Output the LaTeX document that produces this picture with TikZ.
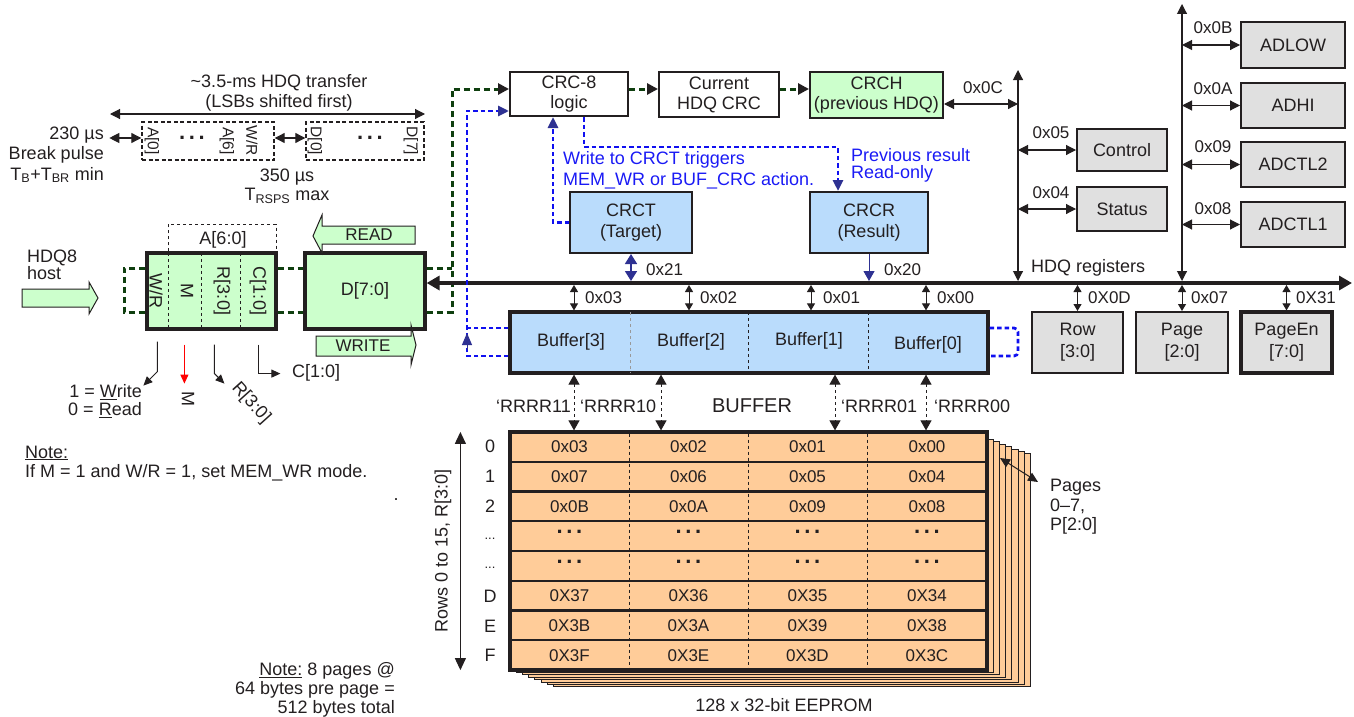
\documentclass[tikz,border=0pt]{standalone}
\usepackage{fontspec}
\setmainfont{Liberation Sans}
\usetikzlibrary{arrows.meta,calc}
\definecolor{gfill}{HTML}{CCFFCC}
\definecolor{bfill}{HTML}{BADCFC}
\definecolor{gyfill}{HTML}{E0E0E0}
\definecolor{ofill}{HTML}{FFCC99}
\definecolor{dgreen}{HTML}{0F3F0F}
\definecolor{bdash}{HTML}{1010F0}
\definecolor{navy}{HTML}{2E3192}
\definecolor{ink}{HTML}{231F20}
\definecolor{tblue}{HTML}{1A1AF5}
\newcommand\Fs{\fontsize{18}{21}\selectfont}
\newcommand\Fh{\fontsize{17}{19}\selectfont}
\newcommand\Fr{\fontsize{15.5}{17}\selectfont}
\tikzset{
  every node/.style={text=ink},
  tx/.style={inner sep=0pt, font=\Fs},
  th/.style={inner sep=0pt, font=\Fh},
  bx/.style={draw=ink, line width=2pt, inner sep=0pt, align=center, font=\Fs},
  bxk/.style={bx, line width=3.2pt},
  ar/.style={draw=ink, line width=1.1pt, -{Triangle[length=10pt,width=10pt]}},
  dar/.style={draw=ink, line width=1.1pt, {Triangle[length=10pt,width=10pt]}-{Triangle[length=10pt,width=10pt]}},
  sdar/.style={draw=ink, line width=1pt, {Triangle[length=7pt,width=8pt]}-{Triangle[length=7pt,width=8pt]}},
  gd/.style={draw=dgreen, line width=3pt, dash pattern=on 6pt off 4pt},
  bd/.style={draw=bdash, line width=2.8pt, dash pattern=on 4.5pt off 3pt},
  fat/.style={draw=ink, line width=1pt, fill=gfill},
  fr/.style={draw=ink, dash pattern=on 4pt off 2.5pt, line width=1.4pt, inner sep=0pt},
  dots/.style={inner sep=0pt, font=\bfseries\fontsize{22}{24}\selectfont},
}
\begin{document}
\begin{tikzpicture}[x=1pt,y=-1pt]
\useasboundingbox (0,0) rectangle (1354,717);

% ---------- top-left frame ----------
\node[tx] (ttl1) at (279,83) {\textasciitilde 3.5-ms HDQ transfer};
\node[tx] (ttl2) at (279,103) {(LSBs shifted first)};
\coordinate (lal) at (110,114);
\coordinate (lar) at (425,114);
\draw[dar] (lal) -- (lar);
\node[tx, anchor=east] (t230) at (104,135) {230 µs};
\node[tx, anchor=east] (tbp) at (104,155) {Break pulse};
\node[tx, anchor=east] (ttb) at (104,175) {T\textsubscript{B}+T\textsubscript{BR} min};
\node[fr, minimum width=132pt, minimum height=38pt] (fa) at (208,141) {};
\node[fr, minimum width=118pt, minimum height=38pt] (fd) at (365,141) {};
\draw[dar] ($(fa.west)+(-32,-3)$) -- ($(fa.west)+(0,-3)$);
\draw[dar] ($(fa.east)+(0,-3)$) -- ($(fd.west)+(0,-3)$);
\node[tx, font=\Fr, rotate=-90] (fa0) at (152,141) {A[0]};
\node[dots] (fadots) at (192,138) {.\,.\,.};
\node[tx, font=\Fr, rotate=-90] (fa6) at (227,141) {A[6]};
\node[tx, font=\Fr, rotate=-90] (fawr) at (252,141) {W/R};
\node[tx, font=\Fr, rotate=-90] (fd0) at (315,141) {D[0]};
\node[dots] (fddots) at (370,138) {.\,.\,.};
\node[tx, font=\Fr, rotate=-90] (fd7) at (411,141) {D[7]};
\node[tx] (t350) at (287,177) {350 µs};
\node[tx] (trsps) at (287,196) {T\textsubscript{RSPS} max};

% ---------- host and command byte ----------
\node[tx, align=left, anchor=west, font=\fontsize{18}{17}\selectfont] (host) at (27,265) {HDQ8\\host};
\draw[fat] (22,289) -- (89,289) -- (89,282) -- (98,298) -- (89,314) -- (89,307) -- (22,307) -- cycle;

\node[bxk, fill=gfill, minimum width=129pt, minimum height=76pt] (A) at (211.5,291) {};
\draw[ink, dashed, line width=1pt] ($(A.north west)+(23,1.5)$) -- ($(A.south west)+(23,-1.5)$);
\draw[ink, dashed, line width=1pt] ($(A.north west)+(56,1.5)$) -- ($(A.south west)+(56,-1.5)$);
\draw[ink, dashed, line width=1pt] ($(A.north west)+(95,1.5)$) -- ($(A.south west)+(95,-1.5)$);
\draw[ink, dashed, line width=1pt] ($(A.north west)+(23,0)$) -- ++(0,-27) -- ($(A.north east)+(-1.5,-27)$) -- ($(A.north east)+(-1.5,0)$);
\node[tx] (a60) at (223,240) {A[6:0]};
\node[tx, rotate=-90] (lwr) at (156,291) {W/R};
\node[tx, rotate=-90] (lm) at (187,291) {M};
\node[tx, rotate=-90] (lr) at (222,291) {R[3:0]};
\node[tx, rotate=-90] (lc) at (258,291) {C[1:0]};

\node[bxk, fill=gfill, minimum width=120pt, minimum height=76pt] (D) at (365,291) {D[7:0]};

% READ / WRITE arrows
\draw[fat] (415,226) -- (322,226) -- (322,215) -- (313,236) -- (322,253) -- (322,244) -- (415,244) -- cycle;
\node[tx, font=\fontsize{17}{19}\selectfont] (tread) at (369,235) {READ};
\draw[fat] (316,336) -- (411,336) -- (411,325) -- (416,345) -- (411,365) -- (411,356) -- (316,356) -- cycle;
\node[tx, font=\fontsize{17}{19}\selectfont] (twrite) at (363,346) {WRITE};

% lines below A
\draw[ar, line width=1pt, -{Triangle[length=9pt,width=8pt]}] ($(A.south west)+(12,11)$) -- ++(0,30) -- ++(-14,14);
\draw[red, line width=1pt, -{Triangle[length=9pt,width=8pt]}] ($(A.south west)+(39,14)$) -- ++(0,39);
\draw[ar, line width=1pt, -{Triangle[length=9pt,width=8pt]}] ($(A.south west)+(69,14)$) -- ++(0,29) -- ++(10,10);
\draw[ar, line width=1pt, -{Triangle[length=9pt,width=8pt]}] ($(A.south west)+(113,14)$) -- ++(0,29) -- ++(22,0);
\node[tx, align=right, anchor=east, font=\fontsize{18}{18}\selectfont] (wrd) at (142,401) {1 = \underline{W}rite\\0 = \underline{R}ead};
\node[tx, rotate=-90] (mlab) at (188,399) {M};
\node[tx, rotate=-48] (rlab) at (251,403) {R[3:0]};
\node[tx, anchor=west] (clab) at (292,373) {C[1:0]};

% notes
\node[tx, anchor=west] (note1) at (25,453) {\underline{Note:}};
\node[tx, anchor=west] (note2) at (25,473) {If M = 1 and W/R = 1, set MEM\_WR mode.};
\node[tx] (dot) at (396,500) {.};
\node[tx, align=right, anchor=east, font=\fontsize{18}{19}\selectfont] (note3) at (395,690) {\underline{Note:} 8 pages @\\64 bytes pre page =\\512 bytes total};

% ---------- CRC area ----------
\node[bx, fill=white, minimum width=118pt, minimum height=44pt, font=\fontsize{18}{20}\selectfont] (crc8) at (569,94) {CRC-8\\logic};
\node[bx, fill=white, minimum width=120pt, minimum height=45pt, font=\fontsize{18}{20}\selectfont] (cur) at (719,94.5) {Current\\HDQ CRC};
\node[bx, fill=gfill, minimum width=133pt, minimum height=46pt, font=\fontsize{18}{20}\selectfont] (crch) at (876.5,95) {CRCH\\(previous HDQ)};
\node[bx, fill=bfill, minimum width=122pt, minimum height=61pt] (crct) at (631,222.5) {CRCT\\(Target)};
\node[bx, fill=bfill, minimum width=118pt, minimum height=61pt] (crcr) at (869,222.5) {CRCR\\(Result)};

\coordinate (gt) at (0,268);
\coordinate (gb) at (0,312);
\coordinate (gx) at (452,0);
\coordinate (gtop) at (0,89);
\coordinate (glx) at (124,0);
\draw[gd] (A.west |- gt) -- (glx |- gt) -- (glx |- gb) -- (A.west |- gb);
\draw[gd] (A.east |- gt) -- (D.west |- gt);
\draw[gd] (A.east |- gb) -- (D.west |- gb);
\draw[gd] (D.east |- gt) -- (gx |- gt);
\draw[gd, -{Triangle[length=11pt,width=11pt,color=ink]}] (D.east |- gb) -- (gx |- gb) -- (gx |- gtop) -- (crc8.west |- gtop);
\draw[gd, -{Triangle[length=11pt,width=11pt,color=ink]}] (crc8.east |- gtop) -- (cur.west |- gtop);
\draw[gd, -{Triangle[length=11pt,width=11pt,color=ink]}] (cur.east |- gtop) -- (crch.west |- gtop);

\draw[bd, -{Triangle[length=11pt,width=10pt,color=navy]}] ($(crc8.south west)+(75,0)$) |- ($(crcr.north west)+(29,-44)$) -- ($(crcr.north west)+(29,0)$);
\draw[bd, -{Triangle[length=11pt,width=10pt,color=navy]}] (crct.west) -| ($(crc8.south west)+(44,0)$);
\node[tx, text=tblue, align=left, anchor=west, font=\fontsize{18}{21}\selectfont] (bnote) at (563,170) {Write to CRCT triggers\\MEM\_WR or BUF\_CRC action.};
\node[tx, text=tblue, align=left, anchor=west, font=\fontsize{18}{17}\selectfont] (rnote) at (851,165) {Previous result\\Read-only};

% ---------- bus ----------
\coordinate (busL) at (427,283);
\coordinate (busR) at (1352,283);
\draw[line width=4pt, ink, {Triangle[length=13pt,width=14pt]}-{Triangle[length=13pt,width=14pt]}] (D.east |- busL) -- (busR);

\draw[navy, line width=1.6pt, {Triangle[length=10pt,width=12pt]}-{Triangle[length=10pt,width=12pt]}] (crct.south) -- ($(crct.south |- busL)+(0,-2)$);
\node[th, anchor=west] (l21) at (646,270) {0x21};
\draw[navy, line width=1pt, -{Triangle[length=10pt,width=11pt]}] (crcr.south) -- ($(crcr.south |- busL)+(0,-2)$);
\node[th, anchor=west] (l20) at (884,270) {0x20};

% ---------- registers ----------
\coordinate (v1t) at (1018,70);
\coordinate (v2t) at (1182,4);
\draw[dar] (v1t) -- ($(v1t |- busL)+(0,-2)$);
\draw[dar] (v2t) -- ($(v2t |- busL)+(0,-2)$);
\node[tx, anchor=west] (hdqr) at (1031,268) {HDQ registers};

\node[bx, fill=gyfill, minimum width=90pt, minimum height=42pt] (ctl) at (1122,150) {Control};
\node[bx, fill=gyfill, minimum width=90pt, minimum height=44pt] (sts) at (1122,209) {Status};
\node[bx, fill=gyfill, minimum width=104pt, minimum height=46pt] (adlow) at (1293,45) {ADLOW};
\node[bx, fill=gyfill, minimum width=104pt, minimum height=45pt] (adhi) at (1293,105.5) {ADHI};
\node[bx, fill=gyfill, minimum width=104pt, minimum height=45pt] (adc2) at (1293,164.5) {ADCTL2};
\node[bx, fill=gyfill, minimum width=104pt, minimum height=45pt] (adc1) at (1293,224.5) {ADCTL1};

\draw[dar] ($(crch.east)+(0,9)$) -- ($(v1t |- crch.east)+(0,9)$);
\node[th] (l0c) at (983,88) {0x0C};
\draw[dar] (v1t |- ctl.west) -- (ctl.west);
\node[th] (l05) at (1051,133) {0x05};
\draw[dar] (v1t |- sts.west) -- (sts.west);
\node[th] (l04) at (1051,193) {0x04};
\draw[dar] (v2t |- adlow.west) -- (adlow.west);
\node[th] (l0b) at (1213,28) {0x0B};
\draw[dar] (v2t |- adhi.west) -- (adhi.west);
\node[th] (l0a) at (1213,89) {0x0A};
\draw[dar] (v2t |- adc2.west) -- (adc2.west);
\node[th] (l09) at (1213,147) {0x09};
\draw[dar] (v2t |- adc1.west) -- (adc1.west);
\node[th] (l08) at (1213,209) {0x08};

\node[bx, fill=gyfill, minimum width=91pt, minimum height=61pt, font=\fontsize{18}{22}\selectfont] (row) at (1077.5,342.5) {Row\\{}[3:0]};
\node[bx, fill=gyfill, minimum width=92pt, minimum height=61pt, font=\fontsize{18}{22}\selectfont] (page) at (1182,342.5) {Page\\{}[2:0]};
\node[bxk, fill=gyfill, minimum width=91pt, minimum height=61pt, font=\fontsize{18}{22}\selectfont] (pen) at (1286.5,342.5) {PageEn\\{}[7:0]};
\draw[sdar] ($(row.north |- busL)+(0,2)$) -- (row.north);
\node[th, anchor=west] (l0d) at (1088,298) {0X0D};
\draw[sdar] ($(page.north |- busL)+(0,2)$) -- (page.north);
\node[th, anchor=west] (l07) at (1191,298) {0x07};
\draw[sdar] ($(pen.north |- busL)+(0,2)$) -- (pen.north);
\node[th, anchor=west] (l31) at (1296,298) {0X31};

% ---------- buffer ----------
\node[bxk, fill=bfill, minimum width=478pt, minimum height=61pt] (buf) at (749,342.5) {};
\draw[black!40, dashed, line width=0.8pt] ($(buf.north west)+(122,1.6)$) -- ($(buf.south west)+(122,-1.6)$);
\draw[ink, dashed, line width=1pt] ($(buf.north west)+(240,1.6)$) -- ($(buf.south west)+(240,-1.6)$);
\draw[ink, dashed, line width=1pt] ($(buf.north west)+(360,1.6)$) -- ($(buf.south west)+(360,-1.6)$);
\node[tx] (b3) at (571,342) {Buffer[3]};
\node[tx] (b2) at (691,342) {Buffer[2]};
\node[tx] (b1) at (809,341) {Buffer[1]};
\node[tx] (b0) at (928,345) {Buffer[0]};

\coordinate (k3) at (574,0);
\coordinate (k2) at (689,0);
\coordinate (k1) at (811,0);
\coordinate (k0) at (926,0);
\draw[sdar] ($(k3 |- busL)+(0,2)$) -- (k3 |- buf.north);
\draw[sdar] ($(k2 |- busL)+(0,2)$) -- (k2 |- buf.north);
\draw[sdar] ($(k1 |- busL)+(0,2)$) -- (k1 |- buf.north);
\draw[sdar] ($(k0 |- busL)+(0,2)$) -- (k0 |- buf.north);
\node[th, anchor=west] (l03) at (585,298) {0x03};
\node[th, anchor=west] (l02) at (700,298) {0x02};
\node[th, anchor=west] (l01) at (823,298) {0x01};
\node[th, anchor=west] (l00) at (937,298) {0x00};

% blue loops
\coordinate (bx) at (467,0);
\coordinate (bty) at (0,111);
\coordinate (bby) at (0,356);
\coordinate (bmy) at (0,328);
\coordinate (rlx) at (1018,0);
\draw[bd, -{Triangle[length=11pt,width=10pt,color=navy]}] (buf.west |- bby) -- (bx |- bby) -- (bx |- bty) -- (crc8.west |- bty);
\draw[bd] (buf.west |- bmy) -- (bx |- bmy);
\draw[navy, line width=1pt, -{Triangle[length=12pt,width=10pt]}] ($(bx |- bby)+(0,-6)$) -- ($(bx |- bby)+(0,-23)$);
\draw[bd, rounded corners=4pt] (buf.east |- bmy) -- (rlx |- bmy) -- (rlx |- bby) -- (buf.east |- bby);

% ---------- EEPROM ----------
\foreach \i in {7,6,...,1} {
  \draw[ink, line width=1pt, fill=ofill] (510+6.2*\i, 437+2.4*\i) rectangle (987+6.2*\i, 670+2.4*\i);
}
\node[bxk, fill=ofill, minimum width=477pt, minimum height=238pt] (ee) at (748.5,551) {};
\foreach \k in {1,...,7} {
  \draw[ink, line width=2.2pt] (511.5, 432+29.75*\k) -- (985.5, 432+29.75*\k);
}
\foreach \c in {629,748,867} {
  \draw[ink, dashed, line width=0.8pt] (\c,433.5) -- (\c,668.5);
}
\foreach \r/\a/\b/\c/\d in {0/0x03/0x02/0x01/0x00, 1/0x07/0x06/0x05/0x04, 2/0x0B/0x0A/0x09/0x08, 5/0X37/0X36/0X35/0X34, 6/0X3B/0X3A/0X39/0X38, 7/0X3F/0X3E/0X3D/0X3C} {
  \node[th] at (569.5, 446.9+29.75*\r) {\a};
  \node[th] at (688.5, 446.9+29.75*\r) {\b};
  \node[th] at (807.5, 446.9+29.75*\r) {\c};
  \node[th] at (927, 446.9+29.75*\r) {\d};
}
\foreach \r in {3,4} {
  \foreach \cx in {569.5,688.5,807.5,927} {
    \node[dots] at (\cx, 443+29.75*\r) {.\,.\,.};
  }
}
\node[tx] (r0) at (490,446) {0};
\node[tx] (r1) at (490,476) {1};
\node[tx] (r2) at (490,506) {2};
\node[tx, font=\fontsize{13}{14}\selectfont] (r3) at (490,539) {...};
\node[tx, font=\fontsize{13}{14}\selectfont] (r4) at (490,568) {...};
\node[tx] (rD) at (490,596) {D};
\node[tx] (rE) at (490,626) {E};
\node[tx] (rF) at (490,655) {F};

\draw[dar, {Triangle[length=12pt,width=11pt]}-{Triangle[length=12pt,width=11pt]}] ($(ee.north west)+(-48,1.5)$) -- ($(ee.south west)+(-48,-1.5)$);
\node[tx, rotate=90] (rowsl) at (443,551) {Rows 0 to 15, R[3:0]};

\coordinate (pga) at (1000,458);
\coordinate (pgb) at (1038,482);
\draw[sdar, {Triangle[length=10pt,width=9pt]}-{Triangle[length=10pt,width=9pt]}] (pga) -- (pgb);
\node[tx, align=left, anchor=west, font=\fontsize{18}{19.5}\selectfont] (pgl) at (1050,507) {Pages\\0--7,\\P[2:0]};
\node[tx] (eel) at (784,705) {128 x 32-bit EEPROM};

% dashed buffer-to-EEPROM arrows
\coordinate (q3) at (574,0);
\coordinate (q2) at (661,0);
\coordinate (q1) at (835,0);
\coordinate (q0) at (926,0);
\foreach \q in {q3,q2,q1,q0} {
  \draw[ink, line width=1pt, dashed, {Triangle[length=10pt,width=11pt]}-{Triangle[length=10pt,width=11pt]}] (\q |- buf.south) -- (\q |- ee.north);
}
\node[tx, anchor=east] (rr11) at (571,406) {`RRRR11};
\node[tx, anchor=west] (rr10) at (580,406) {`RRRR10};
\node[tx, anchor=west] (rr01) at (841,406) {`RRRR01};
\node[tx, anchor=west] (rr00) at (934,406) {`RRRR00};
\node[tx, font=\fontsize{20}{22}\selectfont] (bufl) at (752,406) {BUFFER};
\end{tikzpicture}
\end{document}
